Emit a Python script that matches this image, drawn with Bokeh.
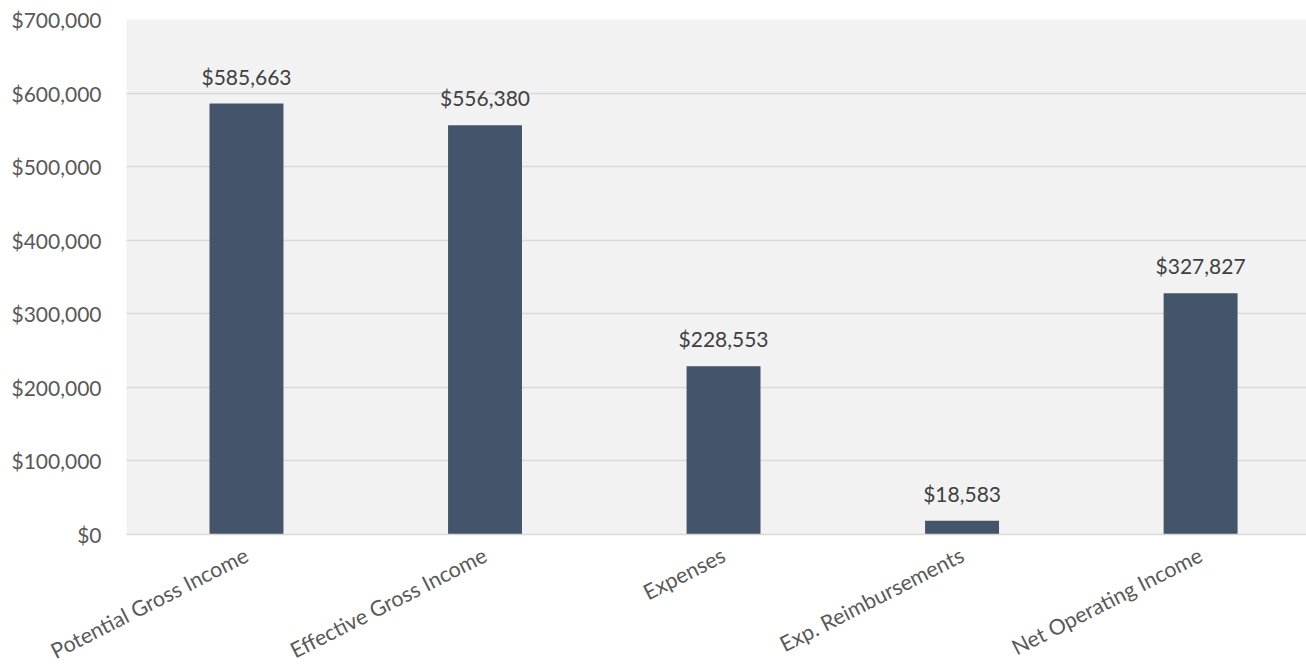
from bokeh.plotting import figure
from bokeh.models import ColumnDataSource, FixedTicker, NumeralTickFormatter, Range1d
from bokeh.core.properties import value
from bokeh.embed import file_html
from bokeh.resources import INLINE

categories = ["Potential Gross Income", "Effective Gross Income", "Expenses",
              "Exp. Reimbursements", "Net Operating Income"]
amounts = [585663, 556380, 228553, 18583, 327827]
y_ticks = [0, 100000, 200000, 300000, 400000, 500000, 600000, 700000]

FONT = "Lato"
xs = list(range(len(categories)))
labels = ["${:,}".format(v) for v in amounts]
src = ColumnDataSource(dict(x=xs, y=amounts, lab=labels))

p = figure(frame_width=1180, frame_height=515, output_backend="svg", toolbar_location=None,
           x_range=Range1d(-0.503, 4.444), y_range=Range1d(0, 700000),
           min_border_left=126, min_border_right=0, min_border_top=19, min_border_bottom=10)
p.background_fill_color = "#f2f2f2"
p.border_fill_color = "white"
p.outline_line_color = None

p.vbar(x="x", top="y", width=0.31, source=src, fill_color="#44546a", line_color=None)
p.text(x="x", y="y", text="lab", source=src, text_align="center", text_baseline="bottom",
       y_offset=-15, text_font=value(FONT), text_font_size="21px", text_color="#404040")

p.xgrid.visible = False
p.ygrid.grid_line_color = "#d9d9d9"
p.ygrid.grid_line_width = 1.5
p.yaxis.ticker = FixedTicker(ticks=y_ticks)
p.yaxis.formatter = NumeralTickFormatter(format="$0,0")
p.yaxis.axis_line_color = None
p.yaxis.major_tick_line_color = None
p.yaxis.minor_tick_line_color = None
p.yaxis.major_label_standoff = 19
p.yaxis.major_label_text_font = FONT
p.yaxis.major_label_text_font_size = "21px"
p.yaxis.major_label_text_color = "#595959"

p.xaxis.ticker = FixedTicker(ticks=xs)
p.xaxis.major_label_overrides = {i: c for i, c in enumerate(categories)}
p.xaxis.major_label_orientation = 0.47
p.xaxis.axis_line_color = "#d9d9d9"
p.xaxis.axis_line_width = 1.5
p.xaxis.major_tick_line_color = None
p.xaxis.minor_tick_line_color = None
p.xaxis.major_label_standoff = 13
p.xaxis.major_label_text_font = FONT
p.xaxis.major_label_text_font_size = "21.5px"
p.xaxis.major_label_text_color = "#595959"

open("out.html", "w").write(file_html(p, INLINE))
